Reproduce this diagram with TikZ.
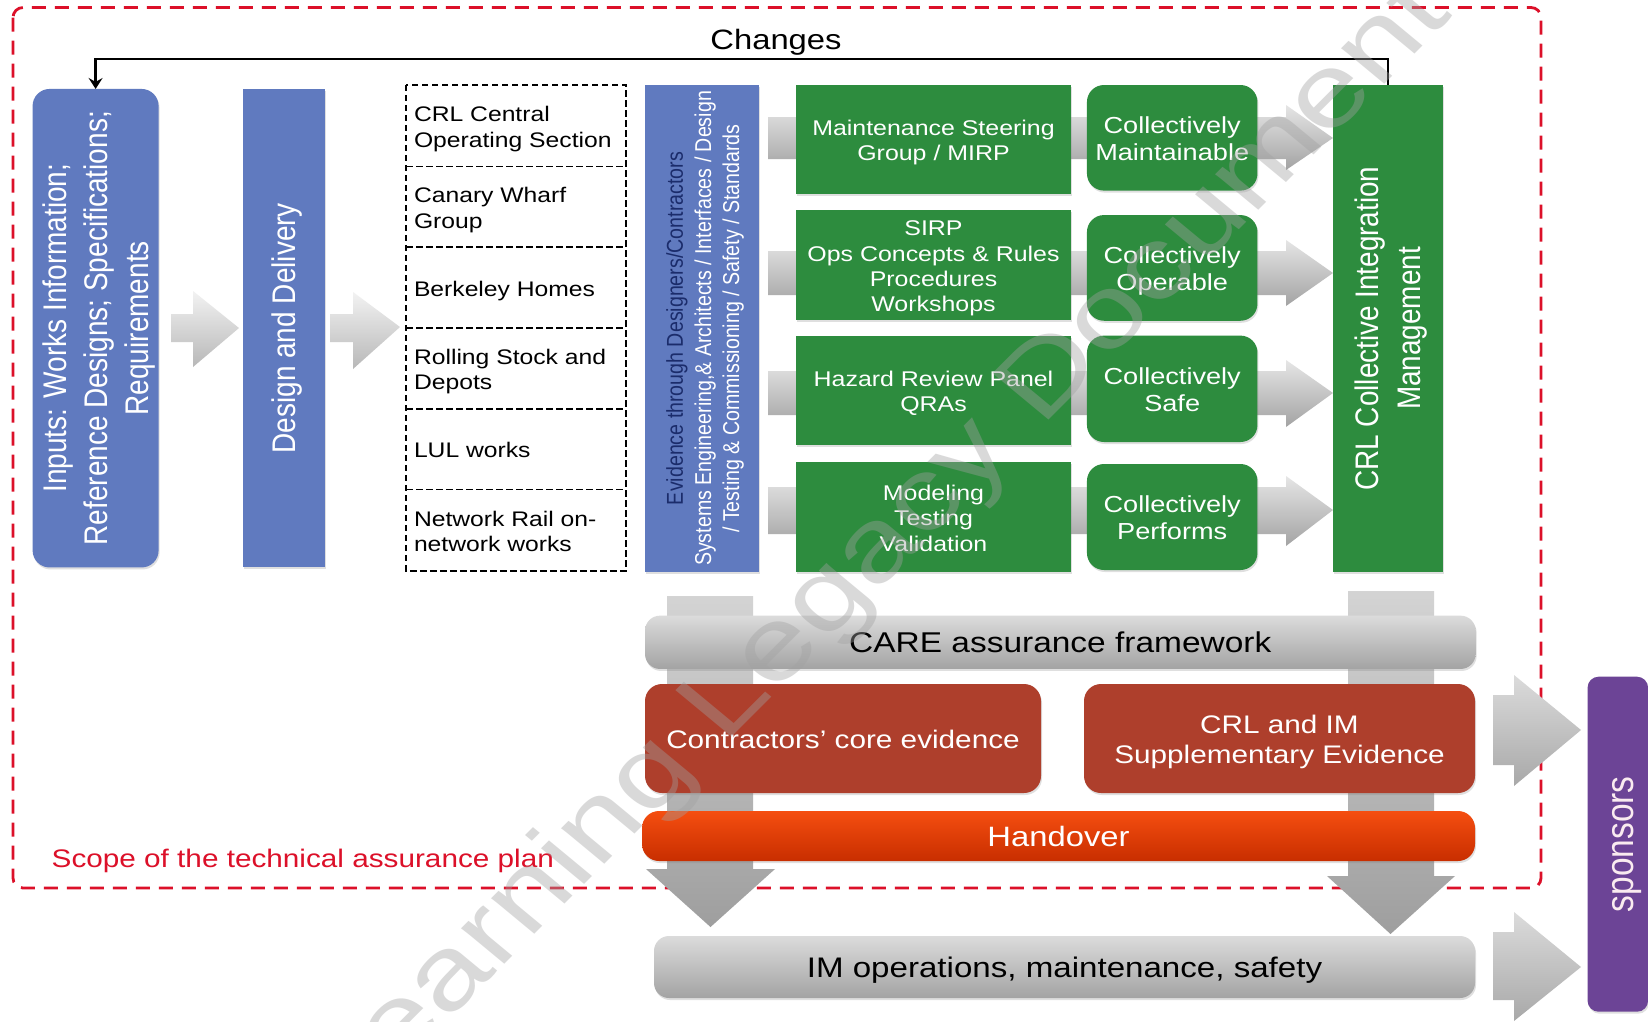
\documentclass[tikz,border=0pt]{standalone}
\usepackage{graphicx}
\usepackage{fontspec}
\setmainfont{Liberation Sans}
\usetikzlibrary{arrows.meta,shadows,calc}
\newcommand\HT[3]{\raisebox{-3.6pt}[\height][\depth]{\scalebox{1.17}[1]{\fontsize{#1}{#2}\selectfont\begin{tabular}{@{}c@{}}#3\end{tabular}}}}
\newcommand\HL[3]{\raisebox{-3.6pt}[\height][\depth]{\scalebox{1.17}[1]{\fontsize{#1}{#2}\selectfont\begin{tabular}{@{}l@{}}#3\end{tabular}}}}
\newcommand\VT[3]{\kern3.4pt\scalebox{1.17}[1]{\rotatebox{90}{\fontsize{#1}{#2}\selectfont\begin{tabular}{@{}c@{}}#3\end{tabular}}}\kern-3.4pt}
% horizontal block arrow: x0, xbase, xtip, body top, body bottom, head top, head bottom, tip y
\newcommand\HArrow[9][]{\path[#1] (#2,#5) -- (#3,#5) -- (#3,#7) -- (#4,#9) -- (#3,#8) -- (#3,#6) -- (#2,#6) -- cycle;}
% vertical block arrow: y0, ybase, ytip, body left, body right, head left, head right, tip x
\newcommand\VArrow[9][]{\path[#1] (#5,#2) -- (#5,#3) -- (#7,#3) -- (#9,#4) -- (#8,#3) -- (#6,#3) -- (#6,#2) -- cycle;}
\definecolor{bluebox}{HTML}{607ABF}
\definecolor{greenbox}{HTML}{2D8C3E}
\definecolor{brick}{HTML}{AE3F2C}
\definecolor{purplebox}{HTML}{6C4496}
\definecolor{redline}{HTML}{DC1029}
\definecolor{navy}{HTML}{1B2C6B}
\definecolor{handtop}{HTML}{F54E10}
\definecolor{handbot}{HTML}{C82E00}
\tikzset{
  softshadow/.style={drop shadow={opacity=.25,shadow xshift=1pt,shadow yshift=-2pt}},
  boxbase/.style={inner sep=0pt,outer sep=0pt,text=white,softshadow},
  bluerect/.style={boxbase,fill=bluebox},
  greenrect/.style={boxbase,fill=greenbox},
  greenround/.style={boxbase,fill=greenbox,rounded corners=17pt},
  brickround/.style={boxbase,fill=brick,rounded corners=17pt},
  greybar/.style={boxbase,text=black,rounded corners=15pt,top color=black!14,bottom color=black!36},
  cell/.style={inner sep=0pt,outer sep=0pt,minimum width=220pt},
  tablerule/.style={draw=black,line width=1.7pt,dash pattern=on 6.5pt off 3.5pt},
  rowarrow/.style={top color=black!10,bottom color=black!36},
  chevron/.style={top color=black!5,bottom color=black!28},
  sidearrow/.style={top color=black!14,bottom color=black!34},
  downarrow/.style={top color=black!17,bottom color=black!38},
  scopeline/.style={draw=redline,line width=2.8pt,dash pattern=on 14pt off 9pt,rounded corners=10pt},
}
\begin{document}
\begin{tikzpicture}[x=1pt,y=-1pt]
\useasboundingbox (0,0) rectangle (1648,1021);
\fill[white] (0,0) rectangle (1648,1021);
% scope boundary
\draw[scopeline] (13,7.5) rectangle (1541,888);
% block arrows behind the boxes
\HArrow[chevron]{171}{193}{239}{314}{342}{291}{367}{328}
\HArrow[chevron]{330}{353}{400}{314}{342}{292}{369}{327}
\HArrow[rowarrow]{768}{1286}{1333}{117}{159}{105}{170}{138}
\HArrow[rowarrow]{768}{1286}{1333}{251}{295}{240}{306}{273}
\HArrow[rowarrow]{768}{1286}{1333}{371}{415}{360}{427}{393}
\HArrow[rowarrow]{768}{1286}{1333}{487}{534}{476}{546}{510}
\VArrow[downarrow]{596}{869}{927}{667}{753}{646}{775}{710.5}
\VArrow[downarrow]{591}{876}{934}{1348}{1434}{1327}{1455}{1390.5}
\HArrow[sidearrow]{1493}{1514}{1581}{695}{765}{675}{786}{730}
\HArrow[sidearrow]{1493}{1514}{1581}{932}{1000}{912}{1021}{967}
% left column
\node[bluerect,rounded corners=17pt,minimum width=126pt,minimum height=478.5pt] (inputs) at (95.6,328.2)
  {\VT{28}{35.2}{Inputs: Works Information;\\Reference Designs; Specifications;\\Requirements}};
\node[bluerect,minimum width=82pt,minimum height=478.5pt] (design) at (284,328.2)
  {\VT{28}{33}{Design and Delivery}};
% dashed table
\node[cell,minimum height=81.5pt] (c1) at (516,125.7) {\makebox[204pt][l]{\HL{21.1}{25.3}{CRL Central\\Operating Section}}};
\node[cell,minimum height=80.5pt] (c2) at (516,206.7) {\makebox[204pt][l]{\HL{21.1}{25.3}{Canary Wharf\\Group}}};
\node[cell,minimum height=81pt] (c3) at (516,287.5) {\makebox[204pt][l]{\HL{21.1}{25.3}{Berkeley Homes}}};
\node[cell,minimum height=81pt] (c4) at (516,368.5) {\makebox[204pt][l]{\HL{21.1}{25.3}{Rolling Stock and\\Depots}}};
\node[cell,minimum height=80.5pt] (c5) at (516,449.2) {\makebox[204pt][l]{\HL{21.1}{25.3}{LUL works}}};
\node[cell,minimum height=81.5pt] (c6) at (516,530.2) {\makebox[204pt][l]{\HL{21.1}{25.3}{Network Rail on-\\network works}}};
\draw[tablerule] (c1.north west) rectangle (c6.south east);
\draw[tablerule] (c1.south west) -- (c1.south east);
\draw[tablerule] (c2.south west) -- (c2.south east);
\draw[tablerule] (c3.south west) -- (c3.south east);
\draw[tablerule] (c4.south west) -- (c4.south east);
\draw[tablerule] (c5.south west) -- (c5.south east);
% evidence column
\node[bluerect,minimum width=114pt,minimum height=487pt] (evid) at (702,328.5)
  {\VT{19.6}{24}{\textcolor{navy}{Evidence through Designers/Contractors}\\Systems Engineering,\& Architects / Interfaces / Design\\/ Testing \& Commissioning / Safety / Standards}};
% green rows
\node[greenrect,minimum width=275pt,minimum height=109pt] (g1) at (933.5,139.5) {\HT{21.3}{25.4}{Maintenance Steering\\Group / MIRP}};
\node[greenrect,minimum width=275pt,minimum height=109.5pt] (g2) at (933.5,265.2) {\HT{21.3}{25.4}{SIRP\\Ops Concepts \& Rules\\Procedures\\Workshops}};
\node[greenrect,minimum width=275pt,minimum height=109pt] (g3) at (933.5,390.2) {\HT{21.3}{25.4}{Hazard Review Panel\\QRAs}};
\node[greenrect,minimum width=275pt,minimum height=110pt] (g4) at (933.5,517) {\HT{21.3}{25.4}{Modeling\\Testing\\Validation}};
\node[greenround,minimum width=170.5pt,minimum height=105.6pt] (k1) at (1172.2,137.8) {\HT{23.2}{26.8}{Collectively\\Maintainable}};
\node[greenround,minimum width=170.5pt,minimum height=105.7pt] (k2) at (1172.2,267.9) {\HT{23.2}{26.8}{Collectively\\Operable}};
\node[greenround,minimum width=170.5pt,minimum height=106.4pt] (k3) at (1172.2,388.8) {\HT{23.2}{26.8}{Collectively\\Safe}};
\node[greenround,minimum width=170.5pt,minimum height=106pt] (k4) at (1172.2,517) {\HT{23.2}{26.8}{Collectively\\Performs}};
\node[greenrect,minimum width=110pt,minimum height=487pt] (crlm) at (1388,328.5) {\VT{27.9}{35.5}{CRL Collective Integration\\Management}};
% feedback connector
\coordinate (chg) at (776,59);
\node[inner sep=0pt] (changes) at (776,39.5) {\HT{28}{32}{Changes}};
\draw[line width=2.8pt,-{Stealth[length=11pt,width=14pt,inset=4pt]}] (crlm.north) |- (chg) -| (inputs.north);
% lower block
\node[greybar,minimum width=830.6pt,minimum height=53.3pt] (care) at (1060.3,642.3) {\HT{28.6}{33}{CARE assurance framework}};
\node[brickround,minimum width=396pt,minimum height=109pt] (contr) at (843,738.5) {\HT{25.4}{30}{Contractors\symbol{39} core evidence}};
\node[brickround,minimum width=391pt,minimum height=109pt] (crlim) at (1279.5,738.5) {\HT{25.4}{30}{CRL and IM\\Supplementary Evidence}};
\node[boxbase,rounded corners=17pt,top color=handtop,bottom color=handbot,minimum width=833pt,minimum height=50pt] (hand) at (1058.5,836) {\HT{28}{32}{Handover}};
\node[greybar,minimum width=821pt,minimum height=62pt] (imops) at (1064.5,967) {\HT{28.3}{32}{IM operations, maintenance, safety}};
\node[boxbase,fill=purplebox,rounded corners=11pt,minimum width=60.5pt,minimum height=335pt,text=white!92!purple] (spons) at (1617.8,844.2) {\kern8pt\VT{33.5}{36}{sponsors}};
\node[inner sep=0pt,anchor=west,text=redline] (scope) at (51.5,858) {\HT{25.4}{30}{Scope of the technical assurance plan}};
% watermark (skewed, as the stretched reference shows it)
\begin{scope}
\clip (0,0) rectangle (1648,1021);
\begin{scope}[shift={(347,1122)}]
\begin{scope}[cm={0.905,0.905,-0.815,0.675,(0,0)}]
\node[transform shape,anchor=base west,inner sep=0pt,text=black!37,opacity=.4] (wm) at (0,0)
  {\fontsize{100}{110}\selectfont Learning Legacy Document};
\end{scope}
\end{scope}
\end{scope}
\end{tikzpicture}
\end{document}
